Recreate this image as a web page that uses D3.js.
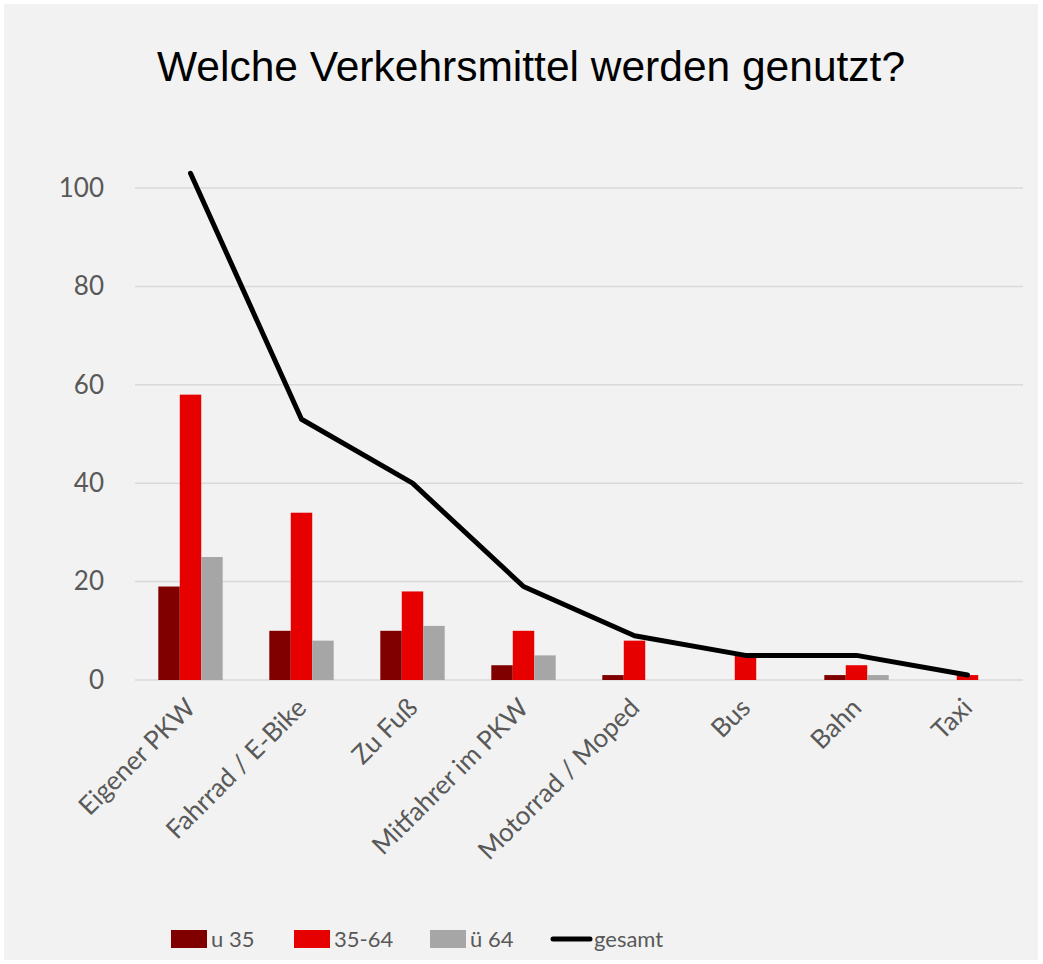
<!DOCTYPE html>
<html>
<head>
<meta charset="utf-8">
<script src="https://cdn.jsdelivr.net/npm/d3@7"></script>
<style>
  body { margin: 0; background: #fff; }
  svg { display: block; }
</style>
</head>
<body>
<div id="chart"></div>
<script>
// Data.
const categories = ["Eigener PKW", "Fahrrad / E-Bike", "Zu Fuß", "Mitfahrer im PKW", "Motorrad / Moped", "Bus", "Bahn", "Taxi"];
const seriesNames = ["u 35", "35-64", "ü 64"];
const u35 = [19, 10, 10, 3, 1, 0, 1, 0];
const mid = [58, 34, 18, 10, 8, 5, 3, 1];
const ue64 = [25, 8, 11, 5, 0, 0, 1, 0];
const gesamt = [103, 53, 40, 19, 9, 5, 5, 1];
const yTicks = [0, 20, 40, 60, 80, 100];

const colors = ["#800000", "#e60000", "#a6a6a6"];
const width = 1043, height = 964;
const font = "Lato, sans-serif";

const svg = d3.select("#chart").append("svg")
  .attr("width", width)
  .attr("height", height);

// Chart background.
svg.append("rect")
  .attr("x", 4).attr("y", 4)
  .attr("width", width - 9).attr("height", height - 8)
  .attr("fill", "#f2f2f2");

// Scales.
const x0 = d3.scaleBand().domain(categories).range([135, 1023]);
const x1 = d3.scaleBand().domain(seriesNames)
  .range([x0.bandwidth() * 0.21, x0.bandwidth() * 0.79]);
const y = d3.scaleLinear().domain([0, 100]).range([680, 188]);

// Title.
svg.append("text")
  .attr("x", 531).attr("y", 81)
  .attr("text-anchor", "middle")
  .attr("font-family", "Liberation Sans, Arial, sans-serif")
  .attr("font-size", 42.5)
  .attr("fill", "#000")
  .text("Welche Verkehrsmittel werden genutzt?");

// Gridlines.
svg.append("g")
  .selectAll("line")
  .data(yTicks)
  .join("line")
  .attr("x1", 135).attr("x2", 1023)
  .attr("y1", d => y(d)).attr("y2", d => y(d))
  .attr("stroke", "#d9d9d9")
  .attr("stroke-width", 1.5);

// Y axis labels.
const yAxis = svg.append("g")
  .attr("transform", "translate(135,0)")
  .call(d3.axisLeft(y).tickValues(yTicks).tickSize(0).tickPadding(31));
yAxis.select(".domain").remove();
yAxis.selectAll("text")
  .attr("font-family", font)
  .attr("font-size", 26)
  .attr("fill", "#595959");

// Bars.
const rows = categories.map((c, i) => ({ cat: c, vals: [u35[i], mid[i], ue64[i]] }));
svg.append("g")
  .selectAll("g")
  .data(rows)
  .join("g")
  .attr("transform", d => `translate(${x0(d.cat)},0)`)
  .selectAll("rect")
  .data(d => d.vals.map((v, j) => ({ key: seriesNames[j], v, j })))
  .join("rect")
  .attr("x", d => x1(d.key))
  .attr("width", x1.bandwidth())
  .attr("y", d => y(d.v))
  .attr("height", d => y(0) - y(d.v))
  .attr("fill", d => colors[d.j]);

// Line for gesamt.
const line = d3.line()
  .x((d, i) => x0(categories[i]) + x0.bandwidth() / 2)
  .y(d => y(d));
svg.append("path")
  .datum(gesamt)
  .attr("d", line)
  .attr("fill", "none")
  .attr("stroke", "#000")
  .attr("stroke-width", 5)
  .attr("stroke-linecap", "round")
  .attr("stroke-linejoin", "round");

// Category labels, rotated.
svg.append("g")
  .selectAll("text")
  .data(categories)
  .join("text")
  .attr("transform", d => `translate(${x0(d) + x0.bandwidth() / 2},${703}) rotate(-45)`)
  .attr("text-anchor", "end")
  .attr("dy", "0.35em")
  .attr("font-family", font)
  .attr("font-size", 26)
  .attr("fill", "#595959")
  .text(d => d);

// Legend.
const legendItems = [
  { name: "u 35", x: 171, type: "rect", color: colors[0] },
  { name: "35-64", x: 294, type: "rect", color: colors[1] },
  { name: "ü 64", x: 430, type: "rect", color: colors[2] },
  { name: "gesamt", x: 553, type: "line", color: "#000" }
];
const lg = svg.append("g")
  .selectAll("g")
  .data(legendItems)
  .join("g")
  .attr("transform", d => `translate(${d.x},939)`);
lg.filter(d => d.type === "rect").append("rect")
  .attr("x", 0).attr("y", -9)
  .attr("width", 36).attr("height", 18)
  .attr("fill", d => d.color);
lg.filter(d => d.type === "line").append("line")
  .attr("x1", 0).attr("x2", 37)
  .attr("stroke", "#000")
  .attr("stroke-width", 5)
  .attr("stroke-linecap", "round");
lg.append("text")
  .attr("x", d => d.type === "line" ? 41 : 40)
  .attr("dy", "0.35em")
  .attr("font-family", font)
  .attr("font-size", 22)
  .attr("fill", "#595959")
  .text(d => d.name);
</script>
</body>
</html>
